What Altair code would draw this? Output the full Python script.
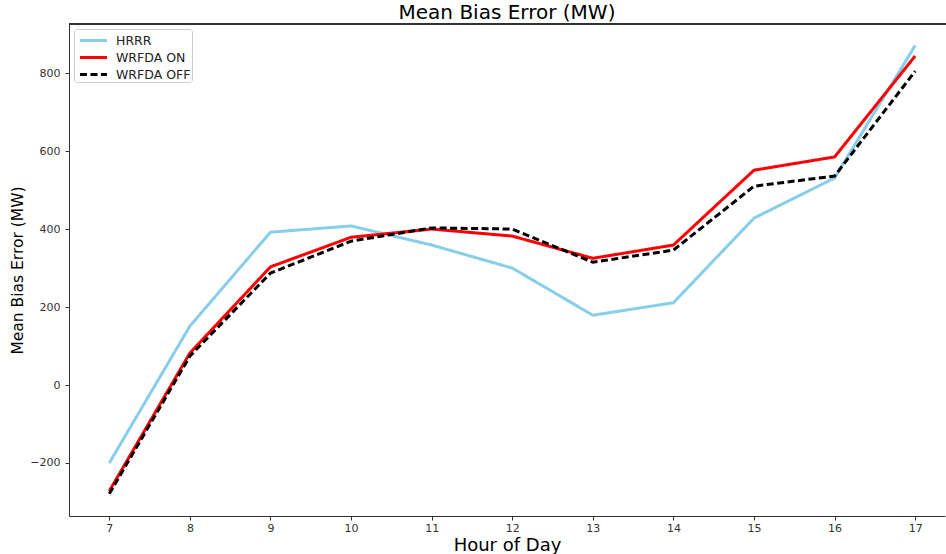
import altair as alt
import pandas as pd

hours = [7, 8, 9, 10, 11, 12, 13, 14, 15, 16, 17]
hrrr = [-200, 151, 392, 408, 359, 300, 179, 211, 428, 531, 871]
wrfda_on = [-272, 82, 303, 379, 400, 382, 325, 359, 551, 585, 844]
wrfda_off = [-279, 74, 287, 369, 403, 400, 315, 346, 510, 536, 805]

series_names = ["HRRR", "WRFDA ON", "WRFDA OFF"]
series_colors = ["#87CEEB", "#FF0000", "#000000"]

rows = []
for name, vals in zip(series_names, [hrrr, wrfda_on, wrfda_off]):
    for h, v in zip(hours, vals):
        rows.append({"hour": h, "value": v, "series": name})
df = pd.DataFrame(rows)

FONT = "DejaVu Sans"
X_DOMAIN = [6.5, 17.37]
Y_DOMAIN = [-336, 926]

lines = alt.Chart(df).mark_line().encode(
    x=alt.X("hour:Q",
            scale=alt.Scale(domain=X_DOMAIN, nice=False, zero=False),
            axis=alt.Axis(title="Hour of Day", values=hours, format="d",
                          labelPadding=2,
                          titleFontSize=18, titleFontWeight="normal",
                          titleY=34, titleBaseline="alphabetic")),
    y=alt.Y("value:Q",
            scale=alt.Scale(domain=Y_DOMAIN, nice=False, zero=False),
            axis=alt.Axis(title="Mean Bias Error (MW)",
                          values=[-200, 0, 200, 400, 600, 800],
                          labelPadding=5,
                          titleFontSize=15.5, titleFontWeight="normal",
                          titleX=-52, titleY=246, titleBaseline="middle",
                          titleAngle=-90)),
    color=alt.Color("series:N",
                    scale=alt.Scale(domain=series_names, range=series_colors),
                    sort=series_names,
                    legend=alt.Legend(title=None, orient="top-left")),
    strokeDash=alt.StrokeDash("series:N",
                              scale=alt.Scale(domain=series_names,
                                              range=[[1, 0], [1, 0], [7, 3.5]]),
                              sort=series_names,
                              legend=alt.Legend(title=None, orient="top-left")),
    strokeWidth=alt.StrokeWidth("series:N",
                                scale=alt.Scale(domain=series_names, range=[3, 3, 2]),
                                legend=None),
    order=alt.Order("hour:Q"),
)

top_spine = alt.Chart(df).mark_rule(color="#333333", strokeWidth=1).encode(
    x=alt.value(0), x2=alt.value(877), y=alt.value(0)
)

chart = alt.layer(lines, top_spine).properties(
    width=876,
    height=492,
    title=alt.Title("Mean Bias Error (MW)", fontSize=20, fontWeight="normal",
                    font=FONT, color="#000000", anchor="middle", offset=4,
                    baseline="alphabetic", dy=19),
    autosize=alt.AutoSizeParams(type="none"),
    padding={"left": 69, "top": 24, "right": 1, "bottom": 38},
).configure(
    font=FONT,
).configure_view(
    stroke=None,
).configure_axis(
    grid=False,
    domain=True,
    domainColor="#333333",
    domainWidth=1,
    ticks=True,
    tickSize=4,
    tickColor="#333333",
    labelFont=FONT,
    labelFontSize=11,
    labelColor="#333333",
    titleFont=FONT,
    titleColor="#000000",
).configure_legend(
    labelFont=FONT,
    labelFontSize=12.5,
    labelColor="#222222",
    symbolType="M-1.5,0H1.5",
    symbolSize=324,
    symbolOffset=8,
    symbolStrokeWidth=3,
    symbolFillColor="transparent",
    fillColor="white",
    strokeColor="#cccccc",
    cornerRadius=3,
    padding=1,
    offset=5,
    rowPadding=-1,
    labelOffset=12,
)

chart.save("out.html", embed_options={"renderer": "svg", "actions": False})
